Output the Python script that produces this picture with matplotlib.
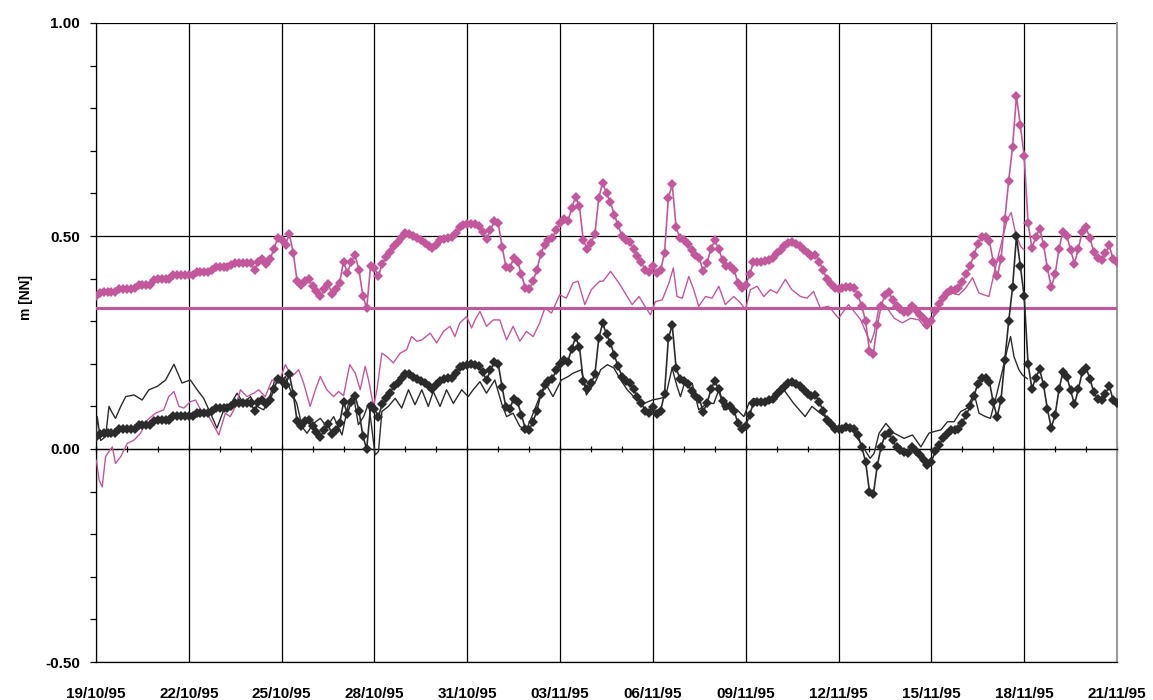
import numpy as np
import pandas as pd
import matplotlib
matplotlib.use("Agg")
import matplotlib.pyplot as plt
import matplotlib.dates as mdates
from matplotlib.ticker import MultipleLocator, FormatStrFormatter

plt.rcParams['font.family'] = ['Liberation Sans', 'DejaVu Sans']

# начало ряда, шаг 3 часа (по 8 значений в строке = сутки)
start = pd.Timestamp("1995-10-19")
n_days = 33

# уровень с маркерами (верхний, розовый)
level_pink = [
    0.358, 0.366, 0.368, 0.368, 0.368, 0.368, 0.376, 0.376,
    0.376, 0.376, 0.378, 0.386, 0.386, 0.386, 0.386, 0.396,
    0.398, 0.398, 0.398, 0.398, 0.408, 0.408, 0.408, 0.408,
    0.408, 0.408, 0.415, 0.415, 0.415, 0.415, 0.420, 0.427,
    0.427, 0.427, 0.427, 0.432, 0.437, 0.437, 0.437, 0.437,
    0.437, 0.420, 0.440, 0.445, 0.435, 0.445, 0.470, 0.495,
    0.490, 0.480, 0.505, 0.460, 0.395, 0.385, 0.395, 0.398,
    0.383, 0.370, 0.358, 0.375, 0.388, 0.365, 0.375, 0.390,
    0.440, 0.413, 0.440, 0.455, 0.420, 0.360, 0.330, 0.430,
    0.425, 0.405, 0.435, 0.450, 0.462, 0.477, 0.485, 0.497,
    0.507, 0.505, 0.500, 0.495, 0.490, 0.484, 0.477, 0.472,
    0.480, 0.490, 0.494, 0.496, 0.497, 0.508, 0.522, 0.526,
    0.528, 0.529, 0.527, 0.524, 0.510, 0.492, 0.515, 0.535,
    0.530, 0.475, 0.428, 0.425, 0.448, 0.440, 0.410, 0.378,
    0.375, 0.394, 0.420, 0.458, 0.480, 0.490, 0.495, 0.515,
    0.530, 0.540, 0.535, 0.565, 0.592, 0.570, 0.490, 0.470,
    0.484, 0.505, 0.590, 0.625, 0.600, 0.580, 0.550, 0.525,
    0.500, 0.490, 0.486, 0.470, 0.453, 0.438, 0.420, 0.415,
    0.429, 0.412, 0.420, 0.460, 0.590, 0.621, 0.520, 0.495,
    0.490, 0.482, 0.467, 0.455, 0.448, 0.418, 0.437, 0.470,
    0.490, 0.470, 0.443, 0.430, 0.430, 0.420, 0.390, 0.378,
    0.385, 0.410, 0.438, 0.440, 0.440, 0.441, 0.444, 0.448,
    0.460, 0.468, 0.476, 0.484, 0.487, 0.482, 0.477, 0.468,
    0.459, 0.454, 0.456, 0.440, 0.420, 0.398, 0.388, 0.378,
    0.376, 0.378, 0.381, 0.380, 0.378, 0.362, 0.335, 0.300,
    0.230, 0.224, 0.290, 0.335, 0.362, 0.368, 0.350, 0.335,
    0.328, 0.322, 0.321, 0.335, 0.326, 0.315, 0.304, 0.292,
    0.300, 0.325, 0.340, 0.355, 0.366, 0.374, 0.374, 0.378,
    0.392, 0.410, 0.430, 0.455, 0.482, 0.497, 0.497, 0.488,
    0.440, 0.405, 0.445, 0.540, 0.630, 0.710, 0.829, 0.760,
    0.688, 0.530, 0.472, 0.497, 0.517, 0.480, 0.424, 0.380,
    0.410, 0.470, 0.510, 0.500, 0.468, 0.435, 0.470, 0.510,
    0.520, 0.495, 0.463, 0.448, 0.444, 0.460, 0.478, 0.445,
    0.438,
]

# уровень с маркерами (нижний, чёрный)
level_black = [
    0.028, 0.036, 0.038, 0.038, 0.038, 0.038, 0.046, 0.046,
    0.046, 0.046, 0.048, 0.056, 0.056, 0.056, 0.056, 0.066,
    0.068, 0.068, 0.068, 0.068, 0.078, 0.078, 0.078, 0.078,
    0.078, 0.078, 0.085, 0.085, 0.085, 0.085, 0.090, 0.097,
    0.097, 0.097, 0.097, 0.102, 0.107, 0.107, 0.107, 0.107,
    0.107, 0.090, 0.110, 0.115, 0.105, 0.115, 0.140, 0.165,
    0.160, 0.150, 0.175, 0.130, 0.065, 0.055, 0.065, 0.068,
    0.053, 0.040, 0.028, 0.045, 0.058, 0.035, 0.045, 0.060,
    0.110, 0.083, 0.110, 0.125, 0.090, 0.030, 0.000, 0.100,
    0.095, 0.075, 0.105, 0.120, 0.132, 0.147, 0.155, 0.167,
    0.177, 0.175, 0.170, 0.165, 0.160, 0.154, 0.147, 0.142,
    0.150, 0.160, 0.164, 0.166, 0.167, 0.178, 0.192, 0.196,
    0.198, 0.199, 0.197, 0.194, 0.180, 0.162, 0.185, 0.205,
    0.200, 0.145, 0.098, 0.095, 0.118, 0.110, 0.080, 0.048,
    0.045, 0.064, 0.090, 0.128, 0.150, 0.160, 0.165, 0.185,
    0.200, 0.210, 0.205, 0.235, 0.262, 0.240, 0.160, 0.140,
    0.154, 0.175, 0.260, 0.295, 0.270, 0.250, 0.220, 0.195,
    0.170, 0.160, 0.156, 0.140, 0.123, 0.108, 0.090, 0.085,
    0.099, 0.082, 0.090, 0.130, 0.260, 0.291, 0.190, 0.165,
    0.160, 0.152, 0.137, 0.125, 0.118, 0.088, 0.107, 0.140,
    0.160, 0.140, 0.113, 0.100, 0.100, 0.090, 0.060, 0.048,
    0.055, 0.080, 0.108, 0.110, 0.110, 0.111, 0.114, 0.118,
    0.130, 0.138, 0.146, 0.154, 0.157, 0.152, 0.147, 0.138,
    0.129, 0.124, 0.126, 0.110, 0.090, 0.068, 0.058, 0.048,
    0.046, 0.048, 0.051, 0.050, 0.048, 0.032, 0.005, -0.030,
    -0.100, -0.106, -0.040, 0.005, 0.032, 0.038, 0.020, 0.005,
    -0.002, -0.008, -0.009, 0.005, -0.004, -0.015, -0.026, -0.038,
    -0.030, -0.005, 0.010, 0.025, 0.036, 0.044, 0.044, 0.048,
    0.062, 0.080, 0.100, 0.125, 0.152, 0.167, 0.167, 0.158,
    0.110, 0.075, 0.115, 0.210, 0.300, 0.380, 0.499, 0.430,
    0.358, 0.200, 0.142, 0.167, 0.187, 0.150, 0.094, 0.050,
    0.080, 0.140, 0.180, 0.170, 0.138, 0.105, 0.140, 0.180,
    0.190, 0.165, 0.133, 0.118, 0.114, 0.130, 0.148, 0.115,
    0.108,
]

# тонкая чёрная линия: сутки от начала, значение
thin_black_days = [
    0.0, 0.04, 0.15, 0.31, 0.42, 0.53, 0.63, 0.80, 0.96, 1.23, 1.49, 1.71,
    1.98, 2.25, 2.52, 2.78, 3.05, 3.27, 3.48, 3.70, 3.91, 4.13, 4.34, 4.56,
    4.77, 4.99, 5.20, 5.42, 5.58, 5.80, 5.96, 6.12, 6.28, 6.49, 6.66, 6.82,
    7.03, 7.25, 7.46, 7.68, 7.95, 8.16, 8.32, 8.48, 8.65, 8.81, 8.91, 9.02,
    9.13, 9.24, 9.45, 9.67, 9.88, 10.10, 10.31, 10.53, 10.74, 10.90, 11.12,
    11.33, 11.55, 11.82, 12.03, 12.19, 12.41, 12.62, 12.89, 13.11, 13.27,
    13.48, 13.70, 13.91, 14.13, 14.34, 14.56, 14.77, 15.04, 15.26, 15.42,
    15.69, 15.85, 16.17, 16.31, 16.53, 16.74, 16.96, 17.17, 17.38, 17.71,
    17.98, 18.25, 18.41, 18.62, 18.78, 18.89, 19.05, 19.27, 19.48, 19.75,
    19.97, 20.13, 20.29, 20.51, 20.72, 20.94, 21.10, 21.26, 21.58, 21.90,
    22.23, 22.55, 22.92, 23.14, 23.41, 23.73, 24.05, 24.38, 24.72, 25.02,
    25.15, 25.31, 25.53, 25.80, 26.12, 26.39, 26.66, 26.92, 27.09, 27.31,
    27.52, 27.73, 27.95, 28.16, 28.38, 28.54, 28.75, 28.91, 29.12, 29.29,
    29.45, 29.56, 29.67, 29.83, 29.94, 30.10,
]
thin_black = [
    0.029, 0.076, 0.020, 0.029, 0.100, 0.084, 0.072, 0.100, 0.123, 0.127,
    0.115, 0.139, 0.147, 0.162, 0.199, 0.155, 0.162, 0.139, 0.119, 0.084,
    0.049, 0.092, 0.104, 0.131, 0.107, 0.123, 0.100, 0.092, 0.115, 0.166,
    0.155, 0.170, 0.139, 0.107, 0.052, 0.037, 0.060, 0.072, 0.052, 0.076,
    0.033, 0.107, 0.127, 0.057, 0.076, 0.107, 0.052, -0.014, -0.006, 0.088,
    0.100, 0.119, 0.096, 0.139, 0.104, 0.139, 0.100, 0.135, 0.100, 0.139,
    0.107, 0.139, 0.123, 0.139, 0.158, 0.131, 0.162, 0.107, 0.076, 0.084,
    0.053, 0.045, 0.084, 0.123, 0.150, 0.123, 0.162, 0.170, 0.178, 0.186,
    0.127, 0.162, 0.186, 0.198, 0.190, 0.162, 0.139, 0.123, 0.107, 0.115,
    0.119, 0.123, 0.190, 0.147, 0.123, 0.162, 0.154, 0.092, 0.107, 0.107,
    0.139, 0.092, 0.096, 0.092, 0.076, 0.107, 0.119, 0.107, 0.111, 0.139,
    0.107, 0.076, 0.100, 0.084, 0.068, 0.045, 0.053, 0.013, -0.022, -0.010,
    0.037, 0.060, 0.037, 0.025, 0.033, 0.005, 0.037, 0.041, 0.045, 0.064,
    0.064, 0.088, 0.096, 0.131, 0.084, 0.076, 0.072, 0.131, 0.182, 0.233,
    0.264, 0.217, 0.186, 0.174, 0.165,
]

# тонкая розовая линия
thin_pink_days = [
    0.0, 0.02, 0.10, 0.20, 0.31, 0.42, 0.53, 0.63, 0.80, 1.01, 1.23, 1.44,
    1.66, 1.92, 2.19, 2.35, 2.52, 2.68, 2.84, 3.05, 3.22, 3.38, 3.65, 3.97,
    4.18, 4.34, 4.51, 4.67, 4.88, 5.10, 5.26, 5.47, 5.69, 5.90, 6.12, 6.33,
    6.55, 6.71, 6.92, 7.09, 7.25, 7.46, 7.68, 7.84, 8.00, 8.20, 8.38, 8.54,
    8.70, 8.81, 8.97, 9.08, 9.24, 9.40, 9.61, 9.83, 10.04, 10.20, 10.37,
    10.53, 10.80, 11.01, 11.23, 11.44, 11.60, 11.76, 11.98, 12.14, 12.25,
    12.41, 12.62, 12.84, 13.05, 13.27, 13.48, 13.70, 13.91, 14.13, 14.34,
    14.51, 14.72, 14.99, 15.20, 15.42, 15.58, 15.80, 16.01, 16.28, 16.39,
    16.63, 16.90, 17.17, 17.33, 17.55, 17.71, 17.92, 18.08, 18.30, 18.52,
    18.66, 18.78, 18.95, 19.16, 19.32, 19.48, 19.70, 19.91, 20.13, 20.34,
    20.61, 20.83, 20.99, 21.15, 21.37, 21.58, 21.80, 22.01, 22.28, 22.49,
    22.77, 22.98, 23.19, 23.41, 23.68, 24.00, 24.32, 24.59, 24.72, 24.94,
    25.04, 25.15, 25.31, 25.53, 25.80, 26.06, 26.33, 26.60, 26.81, 27.03,
    27.25, 27.46, 27.68, 27.89, 28.11, 28.33, 28.54, 28.70, 28.86, 29.03,
    29.24, 29.45, 29.58, 29.72, 29.88, 29.99,
]
thin_pink = [
    -0.026, -0.030, -0.073, -0.089, -0.018, -0.006, 0.005, -0.034, -0.018,
    0.013, 0.021, 0.037, 0.068, 0.084, 0.092, 0.123, 0.135, 0.100, 0.096,
    0.111, 0.115, 0.092, 0.076, 0.033, 0.084, 0.076, 0.100, 0.139, 0.123,
    0.131, 0.139, 0.123, 0.162, 0.155, 0.198, 0.170, 0.186, 0.155, 0.100,
    0.139, 0.170, 0.139, 0.123, 0.135, 0.125, 0.198, 0.178, 0.139, 0.194,
    0.162, 0.100, 0.139, 0.225, 0.217, 0.202, 0.225, 0.233, 0.264, 0.253,
    0.256, 0.272, 0.249, 0.276, 0.288, 0.264, 0.296, 0.311, 0.284, 0.303,
    0.323, 0.288, 0.303, 0.303, 0.256, 0.288, 0.253, 0.276, 0.264, 0.296,
    0.331, 0.319, 0.362, 0.354, 0.390, 0.394, 0.339, 0.374, 0.394, 0.394,
    0.417, 0.390, 0.358, 0.339, 0.358, 0.339, 0.315, 0.346, 0.350, 0.390,
    0.425, 0.358, 0.354, 0.405, 0.374, 0.335, 0.358, 0.354, 0.382, 0.339,
    0.358, 0.343, 0.327, 0.374, 0.382, 0.358, 0.374, 0.366, 0.398, 0.374,
    0.358, 0.354, 0.370, 0.331, 0.335, 0.307, 0.339, 0.315, 0.303, 0.264,
    0.249, 0.272, 0.335, 0.335, 0.307, 0.296, 0.307, 0.303, 0.284, 0.303,
    0.335, 0.358, 0.366, 0.362, 0.378, 0.402, 0.366, 0.362, 0.358, 0.413,
    0.476, 0.539, 0.555, 0.507, 0.476, 0.468,
]

# постоянный уровень
mean_level = 0.33

pink = '#C2589B'
dark = '#2B2B2B'

t3 = pd.date_range(start, periods=len(level_pink), freq='3h')
tb = start + pd.to_timedelta(thin_black_days, unit='D')
tp = start + pd.to_timedelta(thin_pink_days, unit='D')
end = start + pd.Timedelta(days=n_days)

fig = plt.figure(figsize=(11.53, 7.0), dpi=100)
ax = fig.add_axes([96 / 1153, 38 / 700, 1021 / 1153, 639 / 700])

ax.plot(tb, thin_black, color=dark, lw=1.0, zorder=3)
ax.plot(tp, thin_pink, color=pink, lw=1.0, zorder=3)
ax.axhline(mean_level, color=pink, lw=2.2, zorder=3)
ax.plot(t3, level_black, color=dark, lw=1.2, marker='D', ms=5.0,
        mew=0, zorder=4)
ax.plot(t3, level_pink, color=pink, lw=1.2, marker='D', ms=5.0,
        mew=0, zorder=4)

ax.set_xlim(start, end)
ax.set_ylim(-0.5, 1.0)

# оси
ax.set_xticks(pd.date_range(start, end, freq='3D'))
ax.set_xticks(pd.date_range(start, end, freq='D'), minor=True)
ax.xaxis.set_major_formatter(mdates.DateFormatter('%d/%m/%y'))
ax.yaxis.set_major_locator(MultipleLocator(0.5))
ax.yaxis.set_minor_locator(MultipleLocator(0.1))
ax.yaxis.set_major_formatter(FormatStrFormatter('%.2f'))

ax.grid(True, which='major', color='black', lw=0.9, zorder=1)

# ось X проходит через ноль
ax.spines['top'].set_position(('data', 0))
ax.spines['top'].set_linewidth(0.9)
ax.spines['right'].set_color('#9a9a9a')
ax.spines['right'].set_linewidth(1.5)
ax.spines['bottom'].set_linewidth(0.9)
ax.spines['left'].set_linewidth(0.9)

ax.tick_params(axis='x', which='both', bottom=False, top=True,
               labelbottom=True, labeltop=False, direction='inout',
               length=4, width=0.9, pad=16)
ax.tick_params(axis='y', which='both', right=False, direction='out',
               length=4.5, width=0.9, pad=7)
for lab in ax.get_xticklabels() + ax.get_yticklabels():
    lab.set_fontsize(11)
    lab.set_fontweight('bold')

fig.text(26 / 1153, 1 - 298 / 700, 'm [NN]', rotation=90, fontsize=10,
         fontweight='bold', ha='center', va='center')

fig.savefig('out.png', dpi=100)
